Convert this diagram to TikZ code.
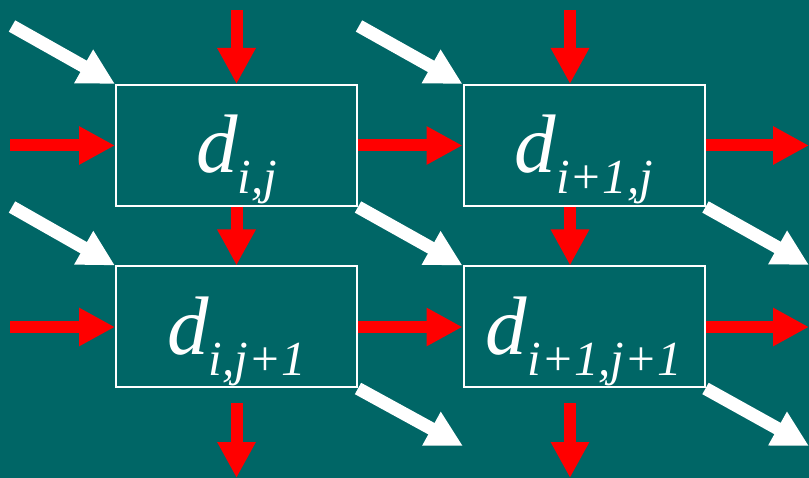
\documentclass[tikz,border=0pt]{standalone}
\usepackage{fontspec}
\setmainfont{Liberation Serif}
\usetikzlibrary{arrows.meta}
\definecolor{board}{RGB}{0,102,102}
\newcommand{\dcell}[1]{{\fontsize{83}{83}\selectfont\itshape d}\raisebox{-21pt}{\fontsize{49}{49}\selectfont\itshape #1}}

\begin{document}
\begin{tikzpicture}[x=1pt,y=-1pt,
    cell/.style={draw=white,line width=2pt,minimum width=241pt,minimum height=121pt,
      inner sep=0pt,text height=88pt,text depth=33pt,text=white},
    redflow/.style={draw=red,line width=12pt,-{Triangle[length=36pt,width=36pt]}},
    whiteflow/.style={draw=white,line width=13pt,-{Triangle[length=36pt,width=36pt]}}]
      \fill[board] (0,0) rectangle (809,478);
      \useasboundingbox (0,0) rectangle (809,478);

      \node[cell] (dij) at (236.5,145.5) {\dcell{i,j}};
      \node[cell] (dinj) at (584,145.5) {\dcell{i+1,j}};
      \node[cell] (dijn) at (236.5,327) {\dcell{i,j+1}};
      \node[cell] (dinjn) at (584,327) {\dcell{i+1,j+1}};

      \coordinate (topA) at (236.5,10);
      \coordinate (topB) at (570,10);
      \coordinate (botA) at (236.5,403);
      \coordinate (botB) at (570,403);
      \coordinate (endA) at (236.5,478);
      \coordinate (endB) at (570,478);
      \coordinate (leftA) at (10,145.5);
      \coordinate (leftB) at (10,327);
      \coordinate (rightA) at (809,145.5);
      \coordinate (rightB) at (809,327);

      \draw[redflow] (topA) -- (dij.north);
      \draw[redflow] (topB) -- ([xshift=-14pt]dinj.north);
      \draw[redflow] (dij.south) -- (dijn.north);
      \draw[redflow] ([xshift=-14pt]dinj.south) -- ([xshift=-14pt]dinjn.north);
      \draw[redflow] (botA) -- (endA);
      \draw[redflow] (botB) -- (endB);

      \draw[redflow] (leftA) -- (dij.west);
      \draw[redflow] (dij.east) -- (dinj.west);
      \draw[redflow] (dinj.east) -- (rightA);
      \draw[redflow] (leftB) -- (dijn.west);
      \draw[redflow] (dijn.east) -- (dinjn.west);
      \draw[redflow] (dinjn.east) -- (rightB);

      \coordinate (diagA) at (12,26);
      \coordinate (diagB) at (359,26);
      \coordinate (diagC) at (12,207);
      \coordinate (diagD) at (809,265);
      \coordinate (diagE) at (463,446);
      \coordinate (diagF) at (809,446);

      \draw[whiteflow] (diagA) -- (dij.north west);
      \draw[whiteflow] (diagB) -- (dinj.north west);
      \draw[whiteflow] (diagC) -- (dijn.north west);
      \draw[whiteflow] (dij.south east) -- (dinjn.north west);
      \draw[whiteflow] (dinj.south east) -- (diagD);
      \draw[whiteflow] (dijn.south east) -- (diagE);
      \draw[whiteflow] (dinjn.south east) -- (diagF);
\end{tikzpicture}
\end{document}
